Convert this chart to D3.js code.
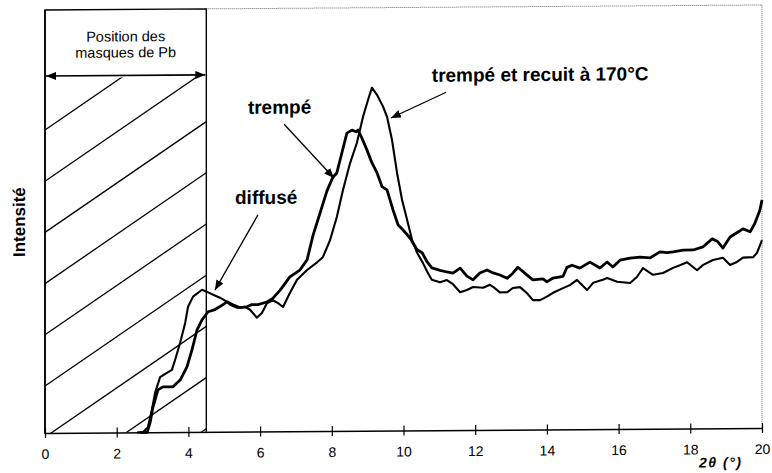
<!DOCTYPE html>
<html>
<head>
<meta charset="utf-8">
<script src="https://cdn.jsdelivr.net/npm/d3@7"></script>
<style>
  html, body { margin: 0; padding: 0; background: #fff; }
  svg { display: block; font-family: "Liberation Sans", Arial, Helvetica, sans-serif; }
</style>
</head>
<body>
<svg id="chart" width="772" height="473"></svg>
<script>
// 2θ (degrees) and intensity (arbitrary units, 0–100 full scale)
const recuitTheta = [2.57,2.73,2.87,2.98,3.07,3.21,3.40,3.54,3.63,3.77,3.91,3.99,4.13,4.38,4.52,4.69,4.88,5.08,5.16,5.36,5.58,5.72,5.91,6.05,6.19,6.36,6.50,6.64,6.83,7.03,7.31,7.59,7.75,7.95,8.14,8.31,8.51,8.70,8.87,9.01,9.12,9.26,9.43,9.54,9.68,9.82,9.96,10.10,10.24,10.38,10.54,10.68,10.79,11.02,11.21,11.38,11.58,11.77,11.94,12.22,12.41,12.50,12.69,12.89,13.05,13.25,13.44,13.61,13.81,14.00,14.17,14.45,14.64,14.84,15.12,15.29,15.56,15.68,15.96,16.32,16.51,16.68,16.96,17.24,17.52,17.71,17.91,18.19,18.35,18.63,18.91,19.11,19.30,19.47,19.75,19.86,20.00];
const recuitI     = [0,0,1.2,5.2,9.3,13.0,14.0,14.7,17.1,21.1,25.8,29.6,32.0,33.6,33.1,32.4,31.7,30.7,30.0,29.3,29.5,28.8,26.9,28.0,30.3,31.0,30.3,29.4,32.7,35.8,38.1,39.9,41.1,45.1,50.6,56.9,63.3,68.1,74.2,78.2,81.1,79.4,76.6,74.2,68.7,60.9,54.5,49.8,45.0,42.0,39.6,37.2,35.6,35.0,35.5,34.5,32.6,33.1,33.8,33.6,34.3,33.8,32.5,32.5,33.5,33.7,32.3,30.6,30.6,31.4,32.3,33.4,34.1,35.3,32.9,34.6,35.3,35.7,34.8,34.5,35.9,38.0,36.4,36.8,38.0,38.6,39.3,37.4,38.6,39.8,40.3,38.6,39.3,40.3,40.4,41.4,44.4];

const trempeTheta = [2.65,2.85,2.93,3.01,3.15,3.29,3.57,3.77,3.96,4.10,4.24,4.38,4.55,4.74,4.88,5.08,5.24,5.44,5.63,5.77,5.94,6.19,6.36,6.56,6.83,7.11,7.31,7.48,7.67,7.87,8.03,8.14,8.28,8.42,8.56,8.68,8.73,8.84,8.98,9.12,9.26,9.40,9.54,9.71,9.85,9.99,10.18,10.38,10.52,10.66,10.79,11.02,11.21,11.38,11.58,11.77,11.94,12.13,12.33,12.50,12.69,12.89,13.05,13.19,13.44,13.61,13.89,14.00,14.17,14.45,14.56,14.70,14.92,15.20,15.48,15.68,15.84,16.04,16.32,16.60,16.88,17.15,17.35,17.52,17.80,18.08,18.35,18.61,18.77,18.91,19.11,19.30,19.47,19.67,19.80,19.94,20.00];
const trempeI     = [0,0,2.2,5.9,10.0,10.7,10.7,12.3,15.4,19.4,24.1,26.5,28.4,28.9,29.6,30.7,30.0,29.3,29.5,30.0,30.0,30.6,31.5,33.4,36.5,38.1,40.5,46.4,51.5,56.9,60.0,61.0,65.7,70.4,71.1,70.7,71.1,69.2,66.4,63.3,61.0,57.7,56.9,52.1,48.6,47.4,45.5,42.7,42.0,39.8,38.4,37.8,37.4,37.1,38.3,36.4,35.5,37.1,37.8,37.1,36.6,35.8,37.0,38.4,36.6,35.4,35.6,34.9,35.8,36.2,38.3,38.8,38.1,39.5,38.1,39.5,38.3,39.9,40.4,40.6,40.4,41.8,41.6,41.8,42.2,42.2,42.9,44.8,44.1,42.6,45.2,46.2,47.1,46.4,48.4,51.5,53.9];

const xTicks = [0, 2, 4, 6, 8, 10, 12, 14, 16, 18, 20];
const maskRange = [0, 4.5];               // 2θ span hidden by the Pb masks
const maskLabel = ["Position des", "masques de Pb"];

// Curve labels: text anchor and arrow tail/tip, in (2θ, intensity)
const labels = [
  { text: "trempé et recuit à 170°C", at: [10.79, 82.4], tail: [11.19, 79.9], tip: [9.65, 73.9] },
  { text: "trempé",                   at: [5.66, 75.1],  tail: [6.67, 72.6],  tip: [8.06, 59.8] },
  { text: "diffusé",                  at: [5.30, 53.8],  tail: [5.94, 51.2],  tip: [4.74, 33.5] }
];

const svg = d3.select("#chart");
const plotL = 45, plotR = 762, plotT = 10, plotB = 433;
const x = d3.scaleLinear().domain([0, 20]).range([plotL, plotR]);
const y = d3.scaleLinear().domain([0, 100]).range([plotB, plotT]);

// arrowhead markers
const defs = svg.append("defs");
defs.append("marker").attr("id", "head")
  .attr("viewBox", "0 0 10 8").attr("refX", 10).attr("refY", 4)
  .attr("markerWidth", 10).attr("markerHeight", 8)
  .attr("markerUnits", "userSpaceOnUse").attr("orient", "auto")
  .append("path").attr("d", "M0,0 L10,4 L0,8 Z").attr("fill", "#000");
defs.append("marker").attr("id", "headStart")
  .attr("viewBox", "0 0 10 8").attr("refX", 10).attr("refY", 4)
  .attr("markerWidth", 10).attr("markerHeight", 8)
  .attr("markerUnits", "userSpaceOnUse").attr("orient", "auto-start-reverse")
  .append("path").attr("d", "M0,0 L10,4 L0,8 Z").attr("fill", "#000");

// the whole figure sits slightly tilted on the page
const g = svg.append("g")
  .attr("transform", `translate(${plotL},${plotB}) skewY(-0.4) translate(${-plotL},${-plotB})`);

// frame: dotted top and right edges
g.append("path")
  .attr("d", `M${x(maskRange[1])},${plotT}H${plotR}V${plotB}`)
  .attr("fill", "none").attr("stroke", "#666").attr("stroke-width", 1)
  .attr("stroke-dasharray", "1,1");

// mask zone: hatch
const maskX0 = x(maskRange[0]), maskX1 = x(maskRange[1]);
const arrowY = 76;
defs.append("clipPath").attr("id", "maskClip")
  .append("rect").attr("x", maskX0).attr("y", arrowY + 2)
  .attr("width", maskX1 - maskX0).attr("height", plotB - arrowY - 2);
const slope = 0.68;
const hatch = g.append("g").attr("clip-path", "url(#maskClip)");
for (let c = 130; c < 600; c += 51.2) {
  hatch.append("line")
    .attr("x1", maskX0).attr("y1", c)
    .attr("x2", maskX1 + 10).attr("y2", c - slope * (maskX1 + 10 - maskX0))
    .attr("stroke", "#000").attr("stroke-width", 1.3);
}
// mask box outline
g.append("path")
  .attr("d", `M${maskX0},${plotB}V${plotT}H${maskX1}V${plotB}`)
  .attr("fill", "none").attr("stroke", "#000").attr("stroke-width", 1.4);
// double-headed span arrow
g.append("line")
  .attr("x1", maskX0 + 1).attr("x2", maskX1 - 1)
  .attr("y1", arrowY).attr("y2", arrowY)
  .attr("stroke", "#000").attr("stroke-width", 1.6)
  .attr("marker-start", "url(#headStart)").attr("marker-end", "url(#head)");
g.append("text")
  .attr("x", (maskX0 + maskX1) / 2).attr("text-anchor", "middle")
  .attr("font-size", 14.5).attr("fill", "#000")
  .selectAll("tspan").data(maskLabel).join("tspan")
  .attr("x", (maskX0 + maskX1) / 2)
  .attr("y", (d, i) => 42 + i * 16)
  .text(d => d);

// x axis
const xAxis = g.append("g")
  .attr("transform", `translate(0,${plotB})`)
  .call(d3.axisBottom(x).tickValues(xTicks).tickFormat(d3.format("d")).tickSizeOuter(0));
xAxis.select(".domain").attr("stroke", "#000").attr("stroke-width", 1.6);
xAxis.selectAll(".tick line").attr("y1", -5).attr("y2", 5).attr("stroke", "#000").attr("stroke-width", 1.2);
xAxis.selectAll(".tick text")
  .attr("y", 26).attr("dy", null)
  .attr("font-size", 14).attr("font-family", "\"Liberation Sans\", Arial, sans-serif")
  .attr("fill", "#000");

g.append("text")
  .attr("x", 699).attr("y", 472)
  .attr("font-size", 14).attr("font-style", "italic").attr("font-weight", "bold")
  .attr("letter-spacing", 1.5)
  .text("2θ (°)");

// y axis line and title
g.append("line")
  .attr("x1", plotL).attr("x2", plotL).attr("y1", plotT).attr("y2", plotB + 1)
  .attr("stroke", "#000").attr("stroke-width", 1.6);
g.append("text")
  .attr("transform", `translate(25,222) rotate(-90)`)
  .attr("text-anchor", "middle").attr("font-size", 17).attr("font-weight", "bold")
  .text("Intensité");

// diffraction curves
const line = d3.line().x(d => x(d[0])).y(d => y(d[1]));
const recuit = recuitTheta.map((t, i) => [t, recuitI[i]]);
const trempe = trempeTheta.map((t, i) => [t, trempeI[i]]);
g.append("path").datum(trempe)
  .attr("d", line).attr("fill", "none").attr("stroke", "#000")
  .attr("stroke-width", 2.8).attr("stroke-linejoin", "round");
g.append("path").datum(recuit)
  .attr("d", line).attr("fill", "none").attr("stroke", "#000")
  .attr("stroke-width", 2.1).attr("stroke-linejoin", "round");

// labels with arrows
const lab = g.append("g");
labels.forEach(l => {
  lab.append("text")
    .attr("x", x(l.at[0])).attr("y", y(l.at[1]))
    .attr("font-size", 19).attr("font-weight", "bold").attr("fill", "#000")
    .text(l.text);
  lab.append("line")
    .attr("x1", x(l.tail[0])).attr("y1", y(l.tail[1]))
    .attr("x2", x(l.tip[0])).attr("y2", y(l.tip[1]))
    .attr("stroke", "#000").attr("stroke-width", 1.3)
    .attr("marker-end", "url(#head)");
});
</script>
</body>
</html>
